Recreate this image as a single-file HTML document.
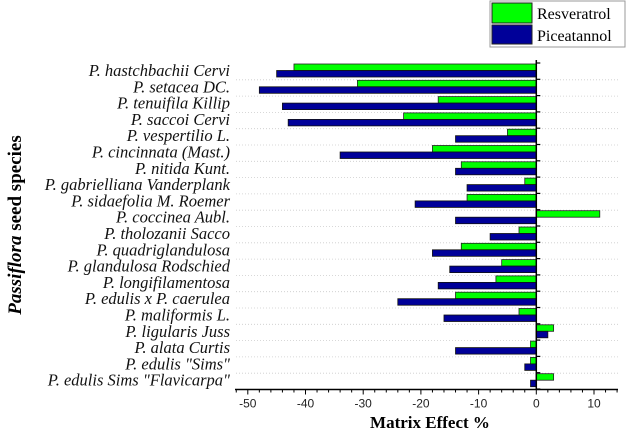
<!DOCTYPE html>
<html><head><meta charset="utf-8"><style>
body{margin:0;background:#fff;width:627px;height:435px;overflow:hidden}
svg{display:block;font-family:"Liberation Serif",serif}
</style></head><body>
<svg id="chart" width="627" height="435" viewBox="0 0 627 435"></svg>
<script>
const categories=["P. hastchbachii Cervi","P. setacea DC.","P. tenuifila Killip","P. saccoi Cervi","P. vespertilio L.","P. cincinnata (Mast.)","P. nitida Kunt.","P. gabrielliana Vanderplank","P. sidaefolia M. Roemer","P. coccinea Aubl.","P. tholozanii Sacco","P. quadriglandulosa","P. glandulosa Rodschied","P.  longifilamentosa","P. edulis x P. caerulea","P. maliformis L.","P. ligularis Juss","P. alata Curtis","P. edulis \"Sims\"","P. edulis Sims \"Flavicarpa\""];
const resveratrol=[-42,-31,-17,-23,-5,-18,-13,-2,-12,11,-3,-13,-6,-7,-14,-3,3,-1,-1,3];
const piceatannol=[-45,-48,-44,-43,-14,-34,-14,-12,-21,-14,-8,-18,-15,-17,-24,-16,2,-14,-2,-1];
const xTicks=[-50,-40,-30,-20,-10,0,10];
const NS="http://www.w3.org/2000/svg";
const svg=document.getElementById('chart');
function el(t,a,p){const e=document.createElementNS(NS,t);for(const k in a)e.setAttribute(k,a[k]);(p||svg).appendChild(e);return e;}
const x=v=>536.3+v*5.77;
const plotTop=64,pitch=16.3,bh=6.5,axisY=389.5;
const y=i=>plotTop+i*pitch;
for(let i=1;i<categories.length;i++){
  const g=el('line',{x1:236,x2:620,y1:y(i)-0.5,y2:y(i)-0.5,stroke:'#ccc','stroke-dasharray':'1,2','stroke-width':0.8});
  
  
}
categories.forEach((c,i)=>{
  const r=el('rect',{x:Math.min(x(0),x(resveratrol[i])),y:y(i),width:Math.abs(x(resveratrol[i])-x(0)),height:bh,fill:'#00ff00',stroke:'#222','stroke-width':0.8});
  
  
  const b=el('rect',{x:Math.min(x(0),x(piceatannol[i])),y:y(i)+bh,width:Math.abs(x(piceatannol[i])-x(0)),height:bh,fill:'#000099',stroke:'#111','stroke-width':0.8});
  
  
  const t=el('text',{x:230,y:y(i)+bh+5.5,'text-anchor':'end','font-size':16.5,'font-style':'italic',fill:'#111'});
  t.textContent=c;
  
  
});
el('line',{x1:x(0),x2:x(0),y1:60,y2:axisY,stroke:'#000','stroke-width':1.5});
for(let i=0;i<=categories.length;i++){el('line',{x1:x(0),x2:x(0)+4,y1:y(i)-1,y2:y(i)-1,stroke:'#000','stroke-width':1.2});}
el('line',{x1:235,x2:618,y1:axisY,y2:axisY,stroke:'#000','stroke-width':1.5});
for(let v=-52;v<=14;v+=2){el('line',{x1:x(v),x2:x(v),y1:axisY,y2:axisY+(v%10===0?5:3),stroke:'#000','stroke-width':1});}
xTicks.forEach(v=>{
  const t=el('text',{x:x(v),y:axisY+18,'text-anchor':'middle','font-size':12,'font-family':'Liberation Sans, sans-serif',fill:'#222'});
  t.textContent=v;
  
  
});
</script>
<svg style="position:absolute;left:0;top:0" width="627" height="435">
<text x="430" y="428" text-anchor="middle" font-size="17" font-weight="bold" font-family="Liberation Serif,serif">Matrix Effect %</text>
<text transform="translate(21,225) rotate(-90)" text-anchor="middle" font-size="19" font-weight="bold" font-family="Liberation Serif,serif"><tspan font-style="italic">Passiflora</tspan> seed species</text>
<g>
<rect x="490" y="1" width="135" height="46" fill="#fff" stroke="#999"/>
<rect x="492" y="3" width="40" height="20" fill="#00ff00" stroke="#222"/>
<rect x="492" y="25" width="40" height="19" fill="#000099" stroke="#222"/>
<text x="537" y="19" font-size="16" font-family="Liberation Serif,serif">Resveratrol</text>
<text x="537" y="41" font-size="16" font-family="Liberation Serif,serif">Piceatannol</text>
</g>
</svg>
</body></html>
